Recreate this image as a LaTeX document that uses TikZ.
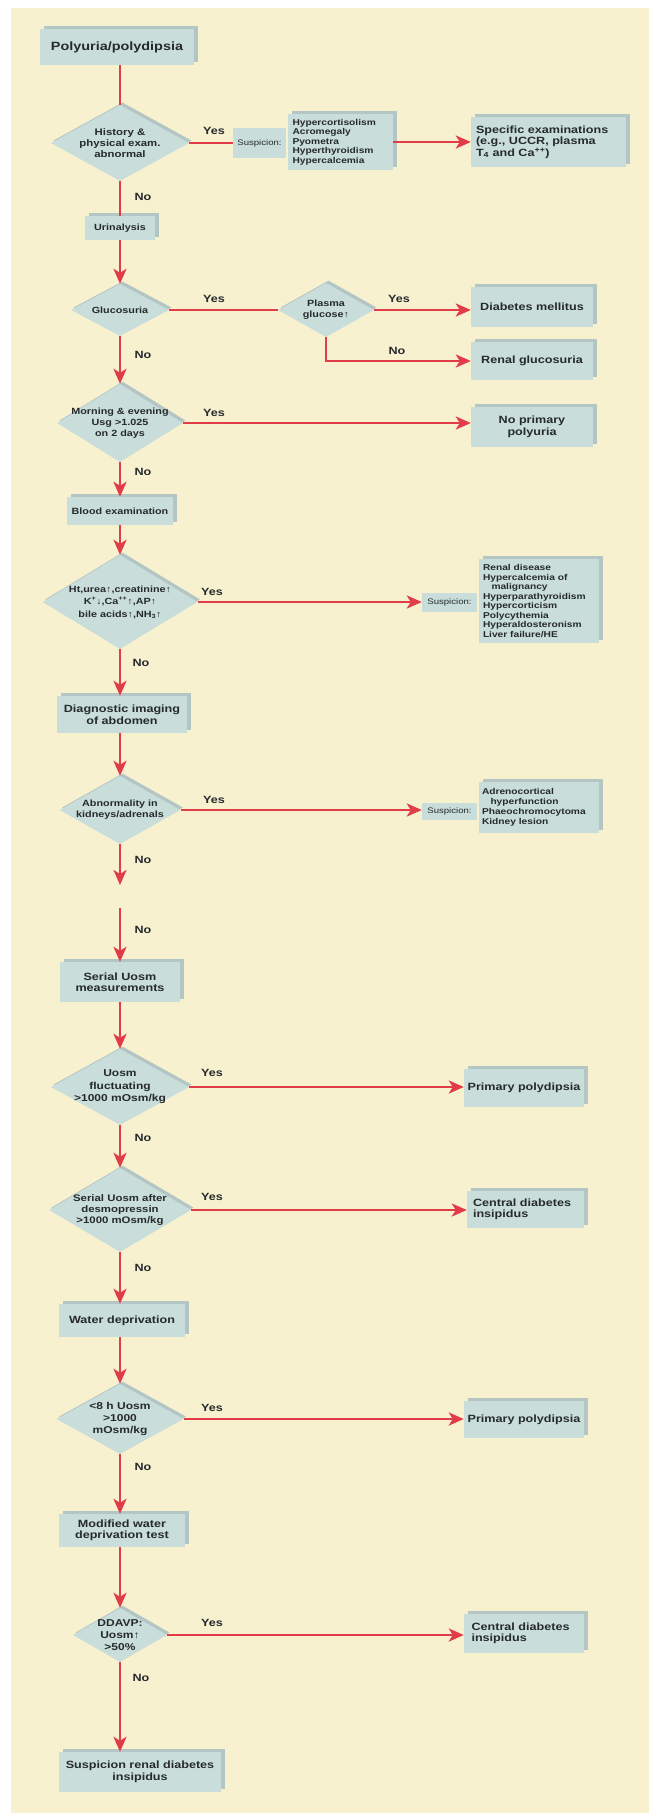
\documentclass[tikz,border=0pt]{standalone}
\usepackage{fontspec}
\setmainfont{Liberation Sans}[FakeStretch=1.2]
\usetikzlibrary{arrows.meta,shapes.geometric,shadows}

\definecolor{cream}{RGB}{248,241,208}
\definecolor{boxfill}{RGB}{201,222,219}
\definecolor{boxedge}{RGB}{180,198,196}
\definecolor{arrowred}{RGB}{226,60,72}
\definecolor{ink}{RGB}{38,42,44}

\tikzset{
  bx/.style={fill=boxfill, general shadow={fill=boxedge, shadow xshift=3.5pt, shadow yshift=3.5pt},
    inner sep=0pt, text=ink, align=center, font=\bfseries\fontsize{10.5}{11.5}\selectfont},
  dia/.style={diamond, fill=boxfill, general shadow={fill=boxedge, shadow xshift=2.5pt, shadow yshift=2.5pt},
    inner sep=0pt},
  dtxt/.style={text=ink, align=center, inner sep=0pt, font=\bfseries\fontsize{9}{11}\selectfont},
  dtxtl/.style={dtxt, font=\bfseries\fontsize{10}{12.5}\selectfont},
  lst/.style={bx, align=left, font=\bfseries\fontsize{8.5}{9.5}\selectfont},
  susp/.style={fill=boxfill, inner sep=0pt, text=ink, font=\mdseries\fontsize{8}{9}\selectfont},
  lbl/.style={text=ink, inner sep=0pt, font=\bfseries\fontsize{10.5}{12}\selectfont},
  ln/.style={draw=arrowred, line width=2.8pt},
  arr/.style={ln, -{Stealth[length=15pt,width=13pt,inset=4pt]}},
}

\begin{document}
\begin{tikzpicture}[x=1pt,y=-1pt]
\useasboundingbox (0,0) rectangle (657,1816);
\fill[cream] (11,8) rectangle (649,1813);

% main column
\node[bx, minimum width=154pt, minimum height=36pt, font=\bfseries\fontsize{12}{14}\selectfont] (title) at (117,47) {Polyuria/polydipsia};
\node[dia, minimum width=138pt, minimum height=76pt, label={[dtxt, font=\bfseries\fontsize{9.5}{11}\selectfont]center:History \&\\physical exam.\\abnormal}] (hist) at (120,143) {};
\node[bx, minimum width=70pt, minimum height=24pt, font=\bfseries\fontsize{9}{10}\selectfont] (urin) at (120,228) {Urinalysis};
\node[dia, minimum width=98pt, minimum height=52pt, label={[dtxt]center:Glucosuria}] (gluc) at (120,310) {};
\node[dia, minimum width=126pt, minimum height=78pt, label={[dtxt]center:Morning \& evening\\Usg >1.025\\on 2 days}] (morn) at (120,423) {};
\node[bx, minimum width=106pt, minimum height=28pt, font=\bfseries\fontsize{9}{10}\selectfont] (blood) at (120,511) {Blood examination};
\node[dia, minimum width=155pt, minimum height=94pt, label={[dtxt, font=\bfseries\fontsize{9}{12.5}\selectfont]center:Ht,urea↑,creatinine↑\\K\textsuperscript{+}↓,Ca\textsuperscript{++}↑,AP↑\\bile acids↑,NH\textsubscript{3}↑}] (ht) at (120,602) {};
\node[bx, minimum width=130pt, minimum height=37pt] (diag) at (122,714.5) {Diagnostic imaging\\of abdomen};
\node[dia, minimum width=121pt, minimum height=68pt, label={[dtxt]center:Abnormality in\\kidneys/adrenals}] (abn) at (120,810) {};
\coordinate (gapA) at (120,885);
\coordinate (gapB) at (120,908);
\node[bx, minimum width=120pt, minimum height=40pt] (serial) at (120,982) {Serial Uosm\\measurements};
\node[dia, minimum width=138pt, minimum height=76pt, label={[dtxtl]center:Uosm\\fluctuating\\>1000 mOsm/kg}] (uosm) at (120,1087) {};
\node[dia, minimum width=142pt, minimum height=84pt, label={[dtxt, font=\bfseries\fontsize{9.5}{11}\selectfont]center:Serial Uosm after\\desmopressin\\>1000 mOsm/kg}] (after) at (120,1210) {};
\node[bx, minimum width=126pt, minimum height=33pt] (water) at (122,1320.5) {Water deprivation};
\node[dia, minimum width=127pt, minimum height=70pt, label={[dtxtl, font=\bfseries\fontsize{10}{12}\selectfont]center:<8 h Uosm\\>1000\\mOsm/kg}] (lt8) at (120,1419) {};
\node[bx, minimum width=126pt, minimum height=33pt] (mod) at (122,1530.5) {Modified water\\deprivation test};
\node[dia, minimum width=94pt, minimum height=54pt, label={[dtxtl, font=\bfseries\fontsize{10}{12}\selectfont]center:DDAVP:\\Uosm↑\\>50\%}] (ddavp) at (120,1635) {};
\node[bx, minimum width=162pt, minimum height=40pt] (srdi) at (140,1772) {Suspicion renal diabetes\\insipidus};

% right side
\node[susp, minimum width=53pt, minimum height=30pt] (susp1) at (259.5,143) {Suspicion:};
\node[lst, minimum width=105pt, minimum height=56pt, text width=96pt] (list1) at (340.5,142) {Hypercortisolism\\Acromegaly\\Pyometra\\Hyperthyroidism\\Hypercalcemia};
\node[bx, minimum width=155pt, minimum height=50pt, text width=145pt, align=left] (spec) at (548.5,142) {Specific examinations\\(e.g., UCCR, plasma\\T\textsubscript{4} and Ca\textsuperscript{++})};
\node[dia, minimum width=96pt, minimum height=54pt, label={[dtxt]center:Plasma\\glucose↑}] (plasma) at (326,310) {};
\node[bx, minimum width=122pt, minimum height=40pt] (dm) at (532,307) {Diabetes mellitus};
\node[bx, minimum width=122pt, minimum height=38pt] (rg) at (532,361) {Renal glucosuria};
\node[bx, minimum width=122pt, minimum height=40pt] (nopp) at (532,427) {No primary\\polyuria};
\node[susp, minimum width=55pt, minimum height=19pt] (susp2) at (449.5,602.5) {Suspicion:};
\node[lst, minimum width=120pt, minimum height=84pt, text width=112pt] (list2) at (539,601) {Renal disease\\Hypercalcemia of\\\quad malignancy\\Hyperparathyroidism\\Hypercorticism\\Polycythemia\\Hyperaldosteronism\\Liver failure/HE};
\node[susp, minimum width=55pt, minimum height=17pt] (susp3) at (449.5,811.5) {Suspicion:};
\node[lst, minimum width=120pt, minimum height=51pt, text width=114pt, font=\bfseries\fontsize{8.5}{10}\selectfont] (list3) at (539,807.5) {Adrenocortical\\\quad hyperfunction\\Phaeochromocytoma\\Kidney lesion};
\node[bx, minimum width=120pt, minimum height=38pt] (pp1) at (524,1088) {Primary polydipsia};
\node[bx, minimum width=117pt, minimum height=37pt, text width=105pt, align=left] (cdi1) at (525.5,1209.5) {Central diabetes\\insipidus};
\node[bx, minimum width=120pt, minimum height=37pt] (pp2) at (524,1419.5) {Primary polydipsia};
\node[bx, minimum width=120pt, minimum height=39pt, text width=105pt, align=left] (cdi2) at (524,1633.5) {Central diabetes\\insipidus};

% connectors
\draw[ln] (hist.north |- title.south) -- (hist.north);
\draw[ln] (hist.east) -- (hist.east -| susp1.west);
\draw[arr] (list1.east) -- (list1.east -| spec.west);
\draw[ln] (hist.south) -- (hist.south |- urin.north);
\draw[arr] (gluc.north |- urin.south) -- (gluc.north);
\draw[ln] (gluc.east) -- (plasma.west);
\draw[arr] (plasma.east) -- (plasma.east -| dm.west);
\draw[arr] (plasma.south) |- (rg.west);
\draw[arr] (gluc.south) -- (morn.north);
\draw[arr] (morn.east) -- (morn.east -| nopp.west);
\draw[arr] (morn.south) -- (morn.south |- blood.north);
\draw[arr] (ht.north |- blood.south) -- (ht.north);
\draw[arr] (ht.east) -- (ht.east -| susp2.west);
\draw[arr] (ht.south) -- (ht.south |- diag.north);
\draw[arr] (abn.north |- diag.south) -- (abn.north);
\draw[arr] (abn.east) -- (abn.east -| susp3.west);
\draw[arr] (abn.south) -- (gapA);
\draw[arr] (gapB) -- (gapB |- serial.north);
\draw[arr] (uosm.north |- serial.south) -- (uosm.north);
\draw[arr] (uosm.east) -- (uosm.east -| pp1.west);
\draw[arr] (uosm.south) -- (after.north);
\draw[arr] (after.east) -- (after.east -| cdi1.west);
\draw[arr] (after.south) -- (after.south |- water.north);
\draw[arr] (lt8.north |- water.south) -- (lt8.north);
\draw[arr] (lt8.east) -- (lt8.east -| pp2.west);
\draw[arr] (lt8.south) -- (lt8.south |- mod.north);
\draw[arr] (ddavp.north |- mod.south) -- (ddavp.north);
\draw[arr] (ddavp.east) -- (ddavp.east -| cdi2.west);
\draw[arr] (ddavp.south) -- (ddavp.south |- srdi.north);

% yes / no
\node[lbl] (yes1) at (214,131) {Yes};
\node[lbl] (no1) at (143,197) {No};
\node[lbl] (yes2) at (214,299) {Yes};
\node[lbl] (yes3) at (399,299) {Yes};
\node[lbl] (no3) at (397,351) {No};
\node[lbl] (no2) at (143,355) {No};
\node[lbl] (yes4) at (214,413) {Yes};
\node[lbl] (no4) at (143,472) {No};
\node[lbl] (yes5) at (212,592) {Yes};
\node[lbl] (no5) at (141,663) {No};
\node[lbl] (yes6) at (214,800) {Yes};
\node[lbl] (no6) at (143,860) {No};
\node[lbl] (no7) at (143,930) {No};
\node[lbl] (yes8) at (212,1073) {Yes};
\node[lbl] (no8) at (143,1138) {No};
\node[lbl] (yes9) at (212,1197) {Yes};
\node[lbl] (no9) at (143,1268) {No};
\node[lbl] (yes10) at (212,1408) {Yes};
\node[lbl] (no10) at (143,1467) {No};
\node[lbl] (yes11) at (212,1623) {Yes};
\node[lbl] (no11) at (141,1678) {No};
\end{tikzpicture}
\end{document}
